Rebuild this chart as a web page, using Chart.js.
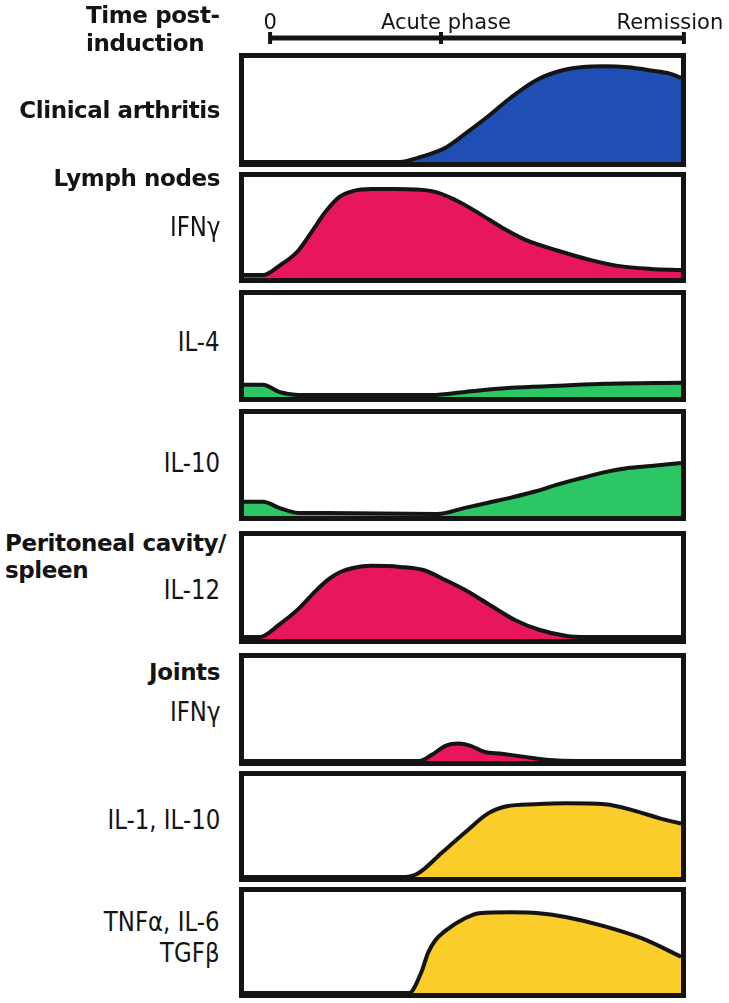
<!DOCTYPE html>
<html>
<head>
<meta charset="utf-8">
<script src="https://cdn.jsdelivr.net/npm/chart.js@4"></script>
<style>
  body { margin: 0; background: #fff; width: 729px; height: 1003px; position: relative; overflow: hidden; }
  .panel { position: absolute; left: 239px; width: 447px; border: 5px solid #141414; box-sizing: border-box; background: #fff; }
  .panel canvas { display: block; }
  .lbl { position: absolute; white-space: nowrap; color: #141414; line-height: 30px; height: 30px; }
  .bold { font-family: 'DejaVu Sans'; font-weight: bold; font-size: 23px; letter-spacing: -0.4px; }
  .thin { font-family: 'DejaVu Sans'; font-size: 26px; transform: scaleX(0.88); transform-origin: right center; }
  #timeline { position: absolute; left: 0; top: 0; }
</style>
</head>
<body>
<canvas id="timeline" width="729" height="52"></canvas>

<div class="lbl bold" style="left:86px; top:0px;">Time post-</div>
<div class="lbl bold" style="left:86px; top:28px;">induction</div>
<div class="lbl bold" style="right:509px; top:95px;">Clinical arthritis</div>
<div class="lbl bold" style="right:509px; top:163px;">Lymph nodes</div>
<div class="lbl thin" style="right:509px; top:212px;">IFNγ</div>
<div class="lbl thin" style="right:509px; top:327px;">IL-4</div>
<div class="lbl thin" style="right:509px; top:448px;">IL-10</div>
<div class="lbl bold" style="left:5px; top:528px;">Peritoneal cavity/</div>
<div class="lbl bold" style="left:5px; top:555px;">spleen</div>
<div class="lbl thin" style="right:509px; top:575px;">IL-12</div>
<div class="lbl bold" style="right:509px; top:657px;">Joints</div>
<div class="lbl thin" style="right:509px; top:697px;">IFNγ</div>
<div class="lbl thin" style="right:509px; top:805px;">IL-1, IL-10</div>
<div class="lbl thin" style="right:509px; top:907px;">TNFα, IL-6</div>
<div class="lbl thin" style="right:509px; top:938px;">TGFβ</div>

<script>
// time axis: 0 = induction, 100 = remission
const timelineTicks = [0, 41.3, 100];
const timelineLabels = ['0', 'Acute phase', 'Remission'];

// relative levels (0-100)
const arthritisT = [-6.3, 31.4, 35.7, 42.5, 47.1, 52.7, 58.2, 64.0, 69.6, 75.1, 80.9, 86.5, 92.0, 96.6, 99.3];
const arthritisV = [0, 0, 4, 14, 27, 44, 62, 78, 87, 91, 92, 91, 88, 85, 81];

const lnIfnT = [-6.3, -1.7, 2.2, 6.8, 10.1, 13.5, 16.7, 20, 24.6, 30.2, 39.1, 44.9, 50.5, 56, 61.6, 69.6, 77.3, 84, 92, 99.3];
const lnIfnV = [3, 3, 12, 27, 46, 66, 80, 86, 88, 88, 86, 77, 64, 50, 38, 27, 18, 12, 9, 8];

const lnIl4T = [-6.3, -1.7, 2.2, 6.8, 39.1, 47.1, 58.2, 69.6, 80.9, 99.3];
const lnIl4V = [12, 12, 5, 2, 2, 5, 9, 11, 13, 14];

const lnIl10T = [-6.3, -1.7, 2.2, 6.8, 13.5, 40.3, 47.1, 52.7, 58.2, 64.0, 69.6, 75.1, 80.9, 86.5, 92, 99.3];
const lnIl10V = [14, 14, 8, 3, 3, 2, 8, 13, 18, 24, 31, 37, 43, 47, 49, 52];

const pcIl12T = [-6.3, -2.4, 2.2, 6.8, 11.1, 14.5, 17, 20, 24.6, 31.4, 37, 42.5, 48.3, 53.9, 59.4, 65, 71.7, 76.3, 99.3];
const pcIl12V = [2, 2, 14, 29, 47, 59, 65, 69, 71, 70, 67, 57, 45, 31, 18, 9, 3, 2, 2];

const jIfnT = [-6.3, 36, 39.1, 42.5, 45.4, 48.3, 51.7, 56, 61.6, 67.4, 74.1, 99.3];
const jIfnV = [0, 0, 6, 15, 17, 15, 9, 7, 4, 1, 0, 0];

const jIl1T = [-6.3, 32.6, 35.9, 41.5, 47.1, 52.7, 57.2, 64, 71.7, 80.9, 88.6, 94.2, 99.3];
const jIl1V = [0, 0, 4, 24, 44, 63, 70, 72, 73, 72, 65, 58, 53];

const jTnfT = [-6.3, 33.6, 36.5, 38.2, 39.9, 42.5, 47.1, 50.5, 58.2, 65, 71.7, 80.9, 89.9, 99.3];
const jTnfV = [0, 0, 20, 40, 52, 62, 74, 79, 80, 79, 75, 66, 54, 36];

const blue = '#1f4fb4';
const pink = '#e8165a';
const green = '#2cc765';
const yellow = '#fbcd2b';
const ink = '#141414';

const panels = [
  { t: arthritisT, v: arthritisV, color: blue, top: 53, height: 114 },
  { t: lnIfnT, v: lnIfnV, color: pink, top: 172, height: 111 },
  { t: lnIl4T, v: lnIl4V, color: green, top: 290, height: 112 },
  { t: lnIl10T, v: lnIl10V, color: green, top: 409, height: 112 },
  { t: pcIl12T, v: pcIl12V, color: pink, top: 531, height: 113 },
  { t: jIfnT, v: jIfnV, color: pink, top: 653, height: 113 },
  { t: jIl1T, v: jIl1V, color: yellow, top: 771, height: 111 },
  { t: jTnfT, v: jTnfV, color: yellow, top: 887, height: 111 }
];

const xMin = -6.3, xMax = 99.3;

// timeline on top
const labelShift = [0, 5, -14];
const timelineText = {
  id: 'timelineText',
  afterDatasetsDraw(chart) {
    const ctx = chart.ctx;
    const xs = chart.scales.x;
    ctx.save();
    ctx.font = '21px "DejaVu Sans"';
    ctx.fillStyle = ink;
    ctx.textAlign = 'center';
    ctx.textBaseline = 'middle';
    timelineLabels.forEach((s, i) => {
      ctx.fillText(s, xs.getPixelForValue(timelineTicks[i]) + labelShift[i], 24);
    });
    ctx.restore();
  }
};

new Chart(document.getElementById('timeline'), {
  type: 'line',
  data: {
    datasets: [{
      data: timelineTicks.map(t => ({ x: t, y: 0 })),
      borderColor: ink,
      borderWidth: 5,
      pointStyle: 'line',
      rotation: 90,
      pointRadius: 6,
      pointBorderWidth: 4,
      pointBorderColor: ink,
      clip: false
    }]
  },
  options: {
    responsive: false,
    animation: false,
    events: [],
    layout: { padding: { left: 244, right: 48, top: 34, bottom: 4 } },
    plugins: { legend: { display: false }, tooltip: { enabled: false } },
    scales: {
      x: { type: 'linear', min: xMin, max: xMax, display: false },
      y: { min: -1, max: 1, display: false }
    }
  },
  plugins: [timelineText]
});

panels.forEach(p => {
  const box = document.createElement('div');
  box.className = 'panel';
  box.style.top = p.top + 'px';
  box.style.height = p.height + 'px';
  const cv = document.createElement('canvas');
  cv.width = 437;
  cv.height = p.height - 10;
  box.appendChild(cv);
  document.body.appendChild(box);

  new Chart(cv, {
    type: 'line',
    data: {
      datasets: [{
        data: p.t.map((x, i) => ({ x: x, y: p.v[i] })),
        fill: 'origin',
        backgroundColor: p.color,
        borderColor: ink,
        borderWidth: 4,
        borderJoinStyle: 'round',
        pointRadius: 0,
        cubicInterpolationMode: 'monotone'
      }]
    },
    options: {
      responsive: false,
      animation: false,
      events: [],
      layout: { padding: 0 },
      plugins: { legend: { display: false }, tooltip: { enabled: false } },
      scales: {
        x: { type: 'linear', min: xMin, max: xMax, display: false },
        y: { min: 0, max: 100, display: false }
      }
    }
  });
});
</script>
</body>
</html>
